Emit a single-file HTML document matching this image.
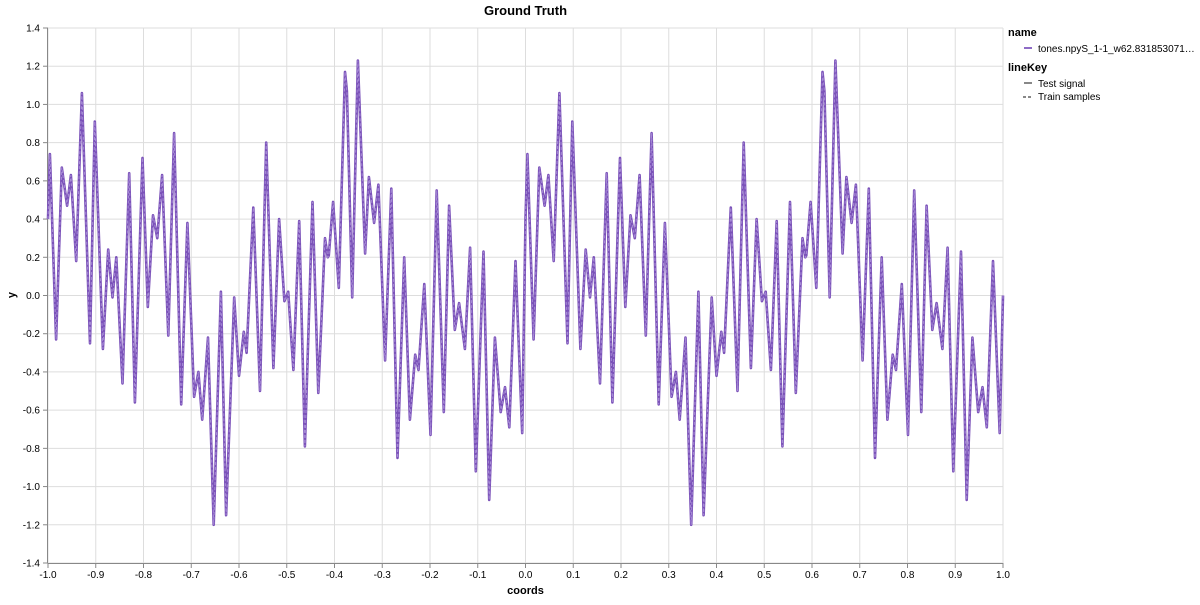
<!DOCTYPE html>
<html><head><meta charset="utf-8"><style>
body{margin:0;background:#fff;font-family:"Liberation Sans",sans-serif}
svg text{font-family:"Liberation Sans",sans-serif}
</style></head><body>
<svg id="chart" width="1200" height="600" xmlns="http://www.w3.org/2000/svg">
<text x="525.5" y="15" text-anchor="middle" font-size="13" font-weight="bold" fill="#000">Ground Truth</text>
<g id="grid"></g>
<g id="axes"></g>
<g id="series"></g>
<text x="525.5" y="594" text-anchor="middle" font-size="11" font-weight="bold">coords</text>
<text transform="translate(15,295) rotate(-90)" text-anchor="middle" font-size="11" font-weight="bold">y</text>
<g>
<text x="1008" y="36" font-size="11" font-weight="bold">name</text>
<line x1="1024" y1="48" x2="1032" y2="48" stroke="#8e6cc6" stroke-width="2"/>
<text x="1038" y="52" font-size="10" fill="#000">tones.npyS_1-1_w62.831853071…</text>
<text x="1008" y="71" font-size="11" font-weight="bold">lineKey</text>
<line x1="1024" y1="83" x2="1032" y2="83" stroke="#888" stroke-width="2"/>
<text x="1038" y="87" font-size="10">Test signal</text>
<line x1="1023" y1="97" x2="1033" y2="97" stroke="#888" stroke-width="2" stroke-dasharray="3,2"/>
<text x="1038" y="100" font-size="10">Train samples</text>
</g>
</svg>
<script>
const xTicks=[-1.0,-0.9,-0.8,-0.7,-0.6,-0.5,-0.4,-0.3,-0.2,-0.1,0.0,0.1,0.2,0.3,0.4,0.5,0.6,0.7,0.8,0.9,1.0];
const yTicks=[1.4,1.2,1.0,0.8,0.6,0.4,0.2,0.0,-0.2,-0.4,-0.6,-0.8,-1.0,-1.2,-1.4];
const coordsA=[-1.000,-0.996,-0.983,-0.971,-0.960,-0.952,-0.941,-0.929,-0.912,-0.902,-0.885,-0.874,-0.865,-0.857,-0.844,-0.830,-0.818,-0.802,-0.791,-0.780,-0.771,-0.761,-0.748,-0.736,-0.721,-0.708,-0.694,-0.685,-0.677,-0.665,-0.653,-0.638,-0.627,-0.610,-0.600,-0.590,-0.584,-0.570,-0.556,-0.543,-0.528,-0.516,-0.505,-0.497,-0.486,-0.474,-0.462,-0.446,-0.434,-0.420,-0.414,-0.412,-0.403,-0.391,-0.378,-0.374,-0.363,-0.351,-0.336,-0.328,-0.317,-0.308,-0.294,-0.281,-0.268,-0.254,-0.242,-0.231,-0.224,-0.212,-0.199,-0.186,-0.171,-0.160,-0.148,-0.139,-0.127,-0.116,-0.104,-0.088,-0.076,-0.064,-0.052,-0.043,-0.034,-0.021,-0.007];
const valuesA=[0.40,0.74,-0.23,0.67,0.47,0.63,0.18,1.06,-0.25,0.91,-0.28,0.24,-0.01,0.20,-0.46,0.64,-0.56,0.72,-0.06,0.42,0.30,0.63,-0.21,0.85,-0.57,0.38,-0.53,-0.40,-0.65,-0.22,-1.20,0.02,-1.15,-0.01,-0.42,-0.19,-0.30,0.46,-0.50,0.80,-0.38,0.40,-0.03,0.02,-0.39,0.39,-0.79,0.49,-0.51,0.30,0.20,0.21,0.49,0.04,1.17,1.07,-0.01,1.23,0.22,0.62,0.38,0.58,-0.34,0.56,-0.85,0.20,-0.65,-0.31,-0.39,0.06,-0.73,0.55,-0.61,0.47,-0.18,-0.04,-0.28,0.25,-0.92,0.23,-1.07,-0.22,-0.61,-0.48,-0.69,0.18,-0.72];
const coordsB=[0.000,0.004,0.017,0.029,0.040,0.048,0.059,0.071,0.088,0.098,0.115,0.126,0.135,0.143,0.156,0.170,0.182,0.198,0.209,0.220,0.229,0.239,0.252,0.264,0.279,0.292,0.306,0.315,0.323,0.335,0.347,0.362,0.373,0.390,0.400,0.410,0.416,0.430,0.444,0.457,0.472,0.484,0.495,0.503,0.514,0.526,0.538,0.554,0.566,0.580,0.586,0.588,0.597,0.609,0.622,0.626,0.637,0.649,0.664,0.672,0.683,0.692,0.706,0.719,0.732,0.746,0.758,0.769,0.776,0.788,0.801,0.814,0.829,0.840,0.852,0.861,0.873,0.884,0.896,0.912,0.924,0.936,0.948,0.957,0.966,0.979,0.993,1.000];
const valuesB=[0.40,0.74,-0.23,0.67,0.47,0.63,0.18,1.06,-0.25,0.91,-0.28,0.24,-0.01,0.20,-0.46,0.64,-0.56,0.72,-0.06,0.42,0.30,0.63,-0.21,0.85,-0.57,0.38,-0.53,-0.40,-0.65,-0.22,-1.20,0.02,-1.15,-0.01,-0.42,-0.19,-0.30,0.46,-0.50,0.80,-0.38,0.40,-0.03,0.02,-0.39,0.39,-0.79,0.49,-0.51,0.30,0.20,0.21,0.49,0.04,1.17,1.07,-0.01,1.23,0.22,0.62,0.38,0.58,-0.34,0.56,-0.85,0.20,-0.65,-0.31,-0.39,0.06,-0.73,0.55,-0.61,0.47,-0.18,-0.04,-0.28,0.25,-0.92,0.23,-1.07,-0.22,-0.61,-0.48,-0.69,0.18,-0.72,0.00];

const NS="http://www.w3.org/2000/svg";
const L=48,R=1003,T=28,B=563;
const xs=v=>L+(v+1)/2*(R-L);
const ys=v=>T+(1.4-v)/2.8*(B-T);
function mk(tag,attrs,parent){const e=document.createElementNS(NS,tag);for(const k in attrs)e.setAttribute(k,attrs[k]);parent.appendChild(e);return e;}
const grid=document.getElementById('grid'),axes=document.getElementById('axes'),series=document.getElementById('series');
xTicks.forEach(t=>{
  const g=mk('line',{x1:xs(t),x2:xs(t),y1:T,y2:B,stroke:'#ddd','stroke-width':1},grid);
  
  
  const tk=mk('line',{x1:xs(t),x2:xs(t),y1:B,y2:B+5,stroke:'#888'},axes);
  
  
  const tx=mk('text',{x:xs(t),y:B+15,'text-anchor':'middle','font-size':10,fill:'#000'},axes);
  tx.textContent=t.toFixed(1);
  
  
});
yTicks.forEach(t=>{
  const g=mk('line',{x1:L,x2:R,y1:ys(t),y2:ys(t),stroke:'#ddd','stroke-width':1},grid);
  
  
  const tk=mk('line',{x1:L-5,x2:L,y1:ys(t),y2:ys(t),stroke:'#888'},axes);
  
  
  const tx=mk('text',{x:L-8,y:ys(t)+3.5,'text-anchor':'end','font-size':10,fill:'#000'},axes);
  tx.textContent=t.toFixed(1);
  
  
});
const xa=mk('line',{x1:L,x2:R,y1:B+0.5,y2:B+0.5,stroke:'#888'},axes);


const ya=mk('line',{x1:L-0.5,x2:L-0.5,y1:T,y2:B,stroke:'#888'},axes);


const cx=coordsA.concat(coordsB),cy=valuesA.concat(valuesB);
const d=cx.map((x,i)=>(i?'L':'M')+xs(x).toFixed(1)+','+ys(cy[i]).toFixed(1)).join('');
const p1=mk('path',{d:d,fill:'none',stroke:'#7b52b9','stroke-width':2.6,'stroke-linejoin':'round'},series);


const p2=mk('path',{d:d,fill:'none',stroke:'#a68bd6','stroke-width':1,'stroke-dasharray':'3,2'},series);


</script>
</body></html>
